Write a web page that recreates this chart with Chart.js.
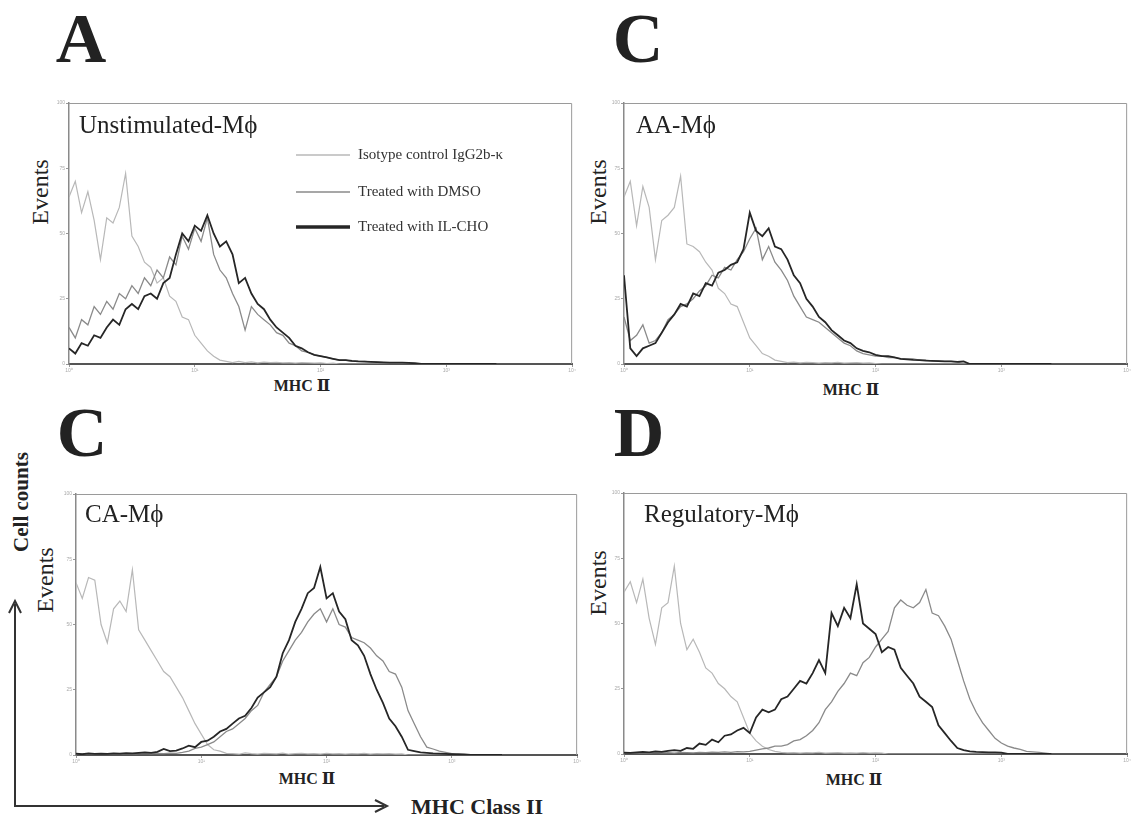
<!DOCTYPE html>
<html>
<head>
<meta charset="utf-8">
<title>MHC II expression histograms</title>
<script src="https://cdn.jsdelivr.net/npm/chart.js@4.4.1/dist/chart.umd.min.js"></script>
<style>
  body { margin: 0; background: #fff; }
  #page { position: relative; width: 1133px; height: 819px; overflow: hidden;
          font-family: "Liberation Serif", "Times New Roman", "DejaVu Serif", serif; color: #222; }
  .box { position: absolute; }
  .txt { position: absolute; white-space: nowrap; line-height: 1; }
</style>
</head>
<body>
<div id="page">
  <svg width="1133" height="819" style="position:absolute;left:0;top:0">
    <polyline points="15,604 15,806 384,806" fill="none" stroke="#333" stroke-width="2"/>
    <path d="M9,613 L15,601 L21,613" fill="none" stroke="#333" stroke-width="2"/>
    <path d="M375,800 L387,806 L375,812" fill="none" stroke="#333" stroke-width="2"/>
  </svg>
</div>
<script>
// log fluorescence position in decades (10^0 .. 10^4)
const decades = [0, 0.05, 0.1, 0.15, 0.2, 0.25, 0.3, 0.35, 0.4, 0.45,
  0.5, 0.55, 0.6, 0.65, 0.7, 0.75, 0.8, 0.85, 0.9, 0.95,
  1, 1.05, 1.1, 1.15, 1.2, 1.25, 1.3, 1.35, 1.4, 1.45,
  1.5, 1.55, 1.6, 1.65, 1.7, 1.75, 1.8, 1.85, 1.9, 1.95,
  2, 2.05, 2.1, 2.15, 2.2, 2.25, 2.3, 2.35, 2.4, 2.45,
  2.5, 2.55, 2.6, 2.65, 2.7, 2.75, 2.8, 2.85, 2.9, 2.95,
  3, 3.05, 3.1, 3.15, 3.2, 3.25, 3.3, 3.35, 3.4];
const xTickLabels = ['10⁰', '10¹', '10²', '10³', '10⁴'];
const yTickValues = [0, 25, 50, 75, 100];
const seriesLabels = ['Isotype control IgG2b-κ', 'Treated with DMSO', 'Treated with IL-CHO'];
const panelTitles = ['Unstimulated-Mϕ', 'AA-Mϕ', 'CA-Mϕ', 'Regulatory-Mϕ'];
const panelLetters = ['A', 'C', 'C', 'D'];

// Unstimulated
const aIso = [64, 70, 58, 66, 55, 40, 56, 54, 60, 73, 49, 45, 39, 37, 31, 33, 26, 24, 18, 17,
  11, 8, 5, 3, 1.5, 1, 0.5, 1, 0.5, 0.8, 0.4, 0.7, 0.5, 0.6, 0.4, 0.5, 0.3, 0.5, 0.4, 0.3,
  0.4, 0.2, 0.3, 0, 0, 0, 0, 0, 0, 0, 0, 0, 0, 0, 0, 0, 0, 0, 0, 0, 0, 0, 0, 0, 0, 0, 0, 0, 0];
const aDmso = [14, 10, 17, 15, 22, 19, 24, 21, 27, 25, 30, 27, 33, 30, 36, 33, 41, 38, 49, 44,
  52, 47, 56, 42, 36, 33, 27, 22, 13, 22, 19, 17, 15, 12, 11, 8, 7, 5, 4.5, 3.5,
  3, 2.5, 2, 1.5, 1.5, 1, 1, 1, 0.8, 0.7, 0.5, 0.5, 0.4, 0.3, 0, 0, 0, 0, 0, 0, 0, 0, 0, 0, 0, 0, 0, 0, 0];
const aIlcho = [6, 4, 8, 7, 11, 10, 14, 17, 15, 21, 23, 21, 26, 27, 25, 31, 33, 42, 50, 47,
  53, 51, 57, 50, 45, 47, 42, 31, 33, 27, 23, 21, 17, 14, 12, 10, 7, 6, 4.5, 3.5,
  3, 2.5, 2, 1.5, 1.5, 1.2, 1, 0.9, 0.8, 0.7, 0.6, 0.5, 0.5, 0.5, 0.4, 0.3, 0, 0, 0, 0, 0, 0, 0, 0, 0, 0, 0, 0, 0];

// AA
const cIso = [64, 70, 53, 68, 60, 40, 55, 57, 60, 72, 46, 45, 43, 39, 36, 29, 27, 23, 22, 16,
  10, 7, 4, 3, 1.5, 1, 0.5, 0.7, 0.4, 0.6, 0.5, 0.3, 0.5, 0.4, 0.6, 0.3, 0.4, 0.5, 0.3, 0.4,
  0.2, 0, 0, 0, 0, 0, 0, 0, 0, 0, 0, 0, 0, 0, 0, 0, 0, 0, 0, 0, 0, 0, 0, 0, 0, 0, 0, 0, 0];
const cDmso = [18, 9, 11, 15, 8, 9, 12, 17, 19, 22, 23, 25, 28, 30, 34, 33, 37, 36, 40, 43,
  48, 52, 40, 45, 39, 36, 32, 26, 22, 18, 17, 16, 14, 12, 10, 8, 7, 5, 4, 3.5,
  3, 3, 2.5, 2.5, 2, 2, 2, 1.5, 1.5, 1.2, 1.2, 1, 1, 0.8, 0, 0, 0, 0, 0, 0, 0, 0, 0, 0, 0, 0, 0, 0, 0];
const cIlcho = [34, 6, 3, 6, 7, 8, 12, 16, 19, 23, 22, 27, 26, 31, 30, 35, 36, 38, 39, 44,
  58, 51, 49, 52, 45, 44, 40, 34, 31, 25, 22, 18, 16, 13, 11, 9, 8, 6, 5, 4.5,
  3.5, 3, 3, 2.5, 2, 1.8, 1.6, 1.5, 1.3, 1.2, 1.1, 1, 1, 0.8, 1, 0, 0, 0, 0, 0, 0, 0, 0, 0, 0, 0, 0, 0, 0];

// CA
const bIso = [66, 60, 68, 67, 50, 43, 56, 59, 55, 71, 48, 44, 40, 36, 32, 30, 26, 22, 17, 12,
  8, 4, 2, 1.5, 0.6, 0.5, 0.3, 0.8, 0.5, 0.3, 0.6, 0.5, 0.4, 0.7, 0.3, 0.5, 0.6, 0.4, 0.5, 0.3,
  0.6, 0.4, 0.5, 0.3, 0.5, 0.4, 0.6, 0.3, 0.5, 0.4, 0.5, 0.3, 0.4, 0, 0, 0, 0, 0, 0, 0, 0, 0, 0, 0, 0, 0, 0, 0, 0];
const bDmso = [0.4, 0.3, 0.5, 0.3, 0.4, 0.5, 0.3, 0.4, 0.5, 0.4, 0.5, 0.6, 0.4, 0.6, 0.5, 0.7, 0.6, 1, 1.5, 2.5,
  3, 4, 5, 7, 9, 10, 12, 14, 17, 19, 24, 27, 30, 36, 40, 44, 47, 51, 54, 56,
  51, 56, 50, 49, 45, 44, 43, 41, 38, 36, 32, 31, 26, 17, 12, 7, 3, 2.3, 1.5, 1, 0.5, 0, 0, 0, 0, 0, 0, 0, 0];
const bIlcho = [0.5, 0.3, 0.6, 0.4, 0.5, 0.4, 0.6, 0.5, 0.7, 0.6, 0.8, 1, 0.8, 1.2, 2.3, 1.5, 1.7, 2.5, 3.6, 3,
  5, 5.5, 7, 9, 10, 12, 14, 15, 18, 22, 24, 26, 30, 39, 44, 51, 56, 62, 64, 72,
  60, 62, 55, 52, 44, 42, 38, 31, 25, 20, 14, 11, 7, 2, 1.5, 1, 0.8, 0.6, 0.5, 0.4, 0.3, 0.3, 0.2, 0, 0, 0, 0, 0, 0];

// Regulatory
const dIso = [62, 66, 58, 67, 52, 42, 56, 58, 72, 50, 40, 44, 39, 33, 31, 27, 25, 22, 20, 14,
  8, 5, 3, 1.7, 1, 0.6, 0.4, 0.5, 0.3, 0.5, 0.4, 0.6, 0.3, 0.4, 0.5, 0.3, 0.4, 0.3, 0.5, 0.3,
  0.4, 0.3, 0, 0, 0, 0, 0, 0, 0, 0, 0, 0, 0, 0, 0, 0, 0, 0, 0, 0, 0, 0, 0, 0, 0, 0, 0, 0, 0];
const dDmso = [0.5, 0.3, 0.4, 0.5, 0.3, 0.6, 0.4, 0.5, 0.3, 0.6, 0.5, 0.4, 0.6, 0.5, 0.7, 0.6, 0.8, 0.6, 0.9, 0.8,
  1, 1.5, 2, 2.3, 3, 3, 3.6, 5, 5.5, 7, 9, 12, 17, 20, 24, 27, 31, 30, 35, 37,
  41, 44, 47, 56, 59, 57, 56, 58, 63, 54, 53, 49, 44, 36, 28, 21, 16, 12, 9, 6, 4.2, 3, 2.3, 1.8, 1, 0.8, 0.6, 0.3, 0];
const dIlcho = [0.5, 0.4, 0.6, 0.8, 0.6, 1, 0.8, 1.2, 1.5, 1.2, 2.3, 2, 4, 3.5, 5.5, 4.5, 7, 7.5, 9, 10,
  8, 14, 17, 16, 17, 21, 22, 25, 28, 27, 31, 36, 31, 54, 49, 56, 52, 65, 50, 48,
  46, 39, 41, 40, 33, 30, 27, 22, 20, 18, 11, 8, 5, 2.3, 1.5, 1, 0.8, 0.7, 0.6, 0.6, 0.5, 0, 0, 0, 0, 0, 0, 0, 0];

const panelSeries = [
  [aIso, aDmso, aIlcho],
  [cIso, cDmso, cIlcho],
  [bIso, bDmso, bIlcho],
  [dIso, dDmso, dIlcho]
];

// plot area of each panel in page pixels
const panelLayout = [
  { left: 69, top: 103, width: 504, height: 261, letter: [81, 39], title: [79, 124], events: [40, 192], mhc: [302, 386] },
  { left: 624, top: 103, width: 504, height: 261, letter: [638, 39], title: [636, 124], events: [598, 192], mhc: [851, 390] },
  { left: 76, top: 494, width: 502, height: 261, letter: [82, 433], title: [85, 513], events: [45, 580], mhc: [307, 779] },
  { left: 624, top: 493, width: 504, height: 261, letter: [639, 433], title: [644, 513], events: [598, 583], mhc: [854, 780] }
];

const seriesStyle = [
  { color: '#b8b8b8', width: 1.2 },
  { color: '#8a8a8a', width: 1.3 },
  { color: '#262626', width: 1.8 }
];

const page = document.getElementById('page');

function addText(str, x, y, size, weight, anchor, rotate) {
  const el = document.createElement('div');
  el.className = 'txt';
  el.textContent = str;
  el.style.left = x + 'px';
  el.style.top = y + 'px';
  el.style.fontSize = size + 'px';
  el.style.fontWeight = weight;
  let t = anchor === 'left' ? 'translate(0,-50%)' : 'translate(-50%,-50%)';
  if (rotate) t += ' rotate(-90deg)';
  el.style.transform = t;
  page.appendChild(el);
  return el;
}

const frameBox = {
  id: 'frameBox',
  afterDraw(chart) {
    const a = chart.chartArea;
    const ctx = chart.ctx;
    ctx.save();
    ctx.strokeStyle = '#9a9a9a';
    ctx.lineWidth = 1;
    ctx.beginPath();
    ctx.moveTo(a.left, a.top + 0.5);
    ctx.lineTo(a.right - 0.5, a.top + 0.5);
    ctx.lineTo(a.right - 0.5, a.bottom);
    ctx.stroke();
    ctx.restore();
  }
};

const histLegend = {
  id: 'histLegend',
  afterDatasetsDraw(chart, args, opts) {
    if (!opts.show) return;
    const a = chart.chartArea;
    const ctx = chart.ctx;
    ctx.save();
    ctx.font = '15px "Liberation Serif", "Times New Roman", serif';
    ctx.textBaseline = 'middle';
    chart.data.datasets.forEach((ds, i) => {
      const y = a.top + opts.rows[i];
      ctx.strokeStyle = ds.borderColor;
      ctx.lineWidth = opts.widths[i];
      ctx.beginPath();
      ctx.moveTo(a.left + opts.x, y);
      ctx.lineTo(a.left + opts.x + 54, y);
      ctx.stroke();
      ctx.fillStyle = '#333';
      ctx.fillText(ds.label, a.left + opts.x + 62, y);
    });
    ctx.restore();
  }
};

function makePanel(idx) {
  const lay = panelLayout[idx];
  const yW = 12, xH = 12, padTop = 5, padRight = 4;
  const wrap = document.createElement('div');
  wrap.className = 'box';
  wrap.style.left = (lay.left - yW) + 'px';
  wrap.style.top = (lay.top - padTop) + 'px';
  wrap.style.width = (lay.width + yW + padRight) + 'px';
  wrap.style.height = (lay.height + padTop + xH) + 'px';
  const canvas = document.createElement('canvas');
  wrap.appendChild(canvas);
  page.appendChild(wrap);

  const datasets = panelSeries[idx].map((vals, i) => ({
    label: seriesLabels[i],
    data: decades.map((d, k) => ({ x: d, y: vals[k] })),
    borderColor: seriesStyle[i].color,
    borderWidth: seriesStyle[i].width,
    pointRadius: 0,
    tension: 0,
    fill: false,
    order: 2 - i
  }));

  new Chart(canvas, {
    type: 'line',
    data: { datasets },
    options: {
      responsive: true,
      maintainAspectRatio: false,
      animation: false,
      layout: { padding: { top: padTop, right: padRight, left: 0, bottom: 0 } },
      plugins: {
        legend: { display: false },
        tooltip: { enabled: false },
        histLegend: { show: idx === 0, x: 227, rows: [52, 89, 124], widths: [1.5, 1.5, 3.5] }
      },
      scales: {
        x: {
          type: 'linear', min: 0, max: 4,
          afterFit: s => { s.height = xH; },
          border: { color: '#555', width: 2 },
          grid: { drawOnChartArea: false, tickLength: 3, color: '#999' },
          ticks: { stepSize: 1, padding: 1, color: '#aaa', font: { size: 5 },
                   maxRotation: 0, callback: v => xTickLabels[v] }
        },
        y: {
          min: 0, max: 100,
          afterFit: s => { s.width = yW; },
          afterBuildTicks: s => { s.ticks = yTickValues.map(v => ({ value: v })); },
          border: { color: '#8a8a8a', width: 1.5 },
          grid: { drawOnChartArea: false, tickLength: 3, color: '#999' },
          ticks: { padding: 1, color: '#aaa', font: { size: 5 } }
        }
      }
    },
    plugins: [frameBox, histLegend]
  });

  addText(panelLetters[idx], lay.letter[0], lay.letter[1], 70, 'bold', 'center');
  addText(panelTitles[idx], lay.title[0], lay.title[1], 25, 'normal', 'left');
  addText('Events', lay.events[0], lay.events[1], 24, 'normal', 'center', true);
  addText('MHC Ⅱ', lay.mhc[0], lay.mhc[1], 16, 'bold', 'center');
}

for (let i = 0; i < panelLayout.length; i++) {
  makePanel(i);
}

addText('Cell  counts', 21, 502, 21, 'bold', 'center', true);
addText('MHC Class II', 411, 807, 22, 'bold', 'left');
</script>
</body>
</html>
